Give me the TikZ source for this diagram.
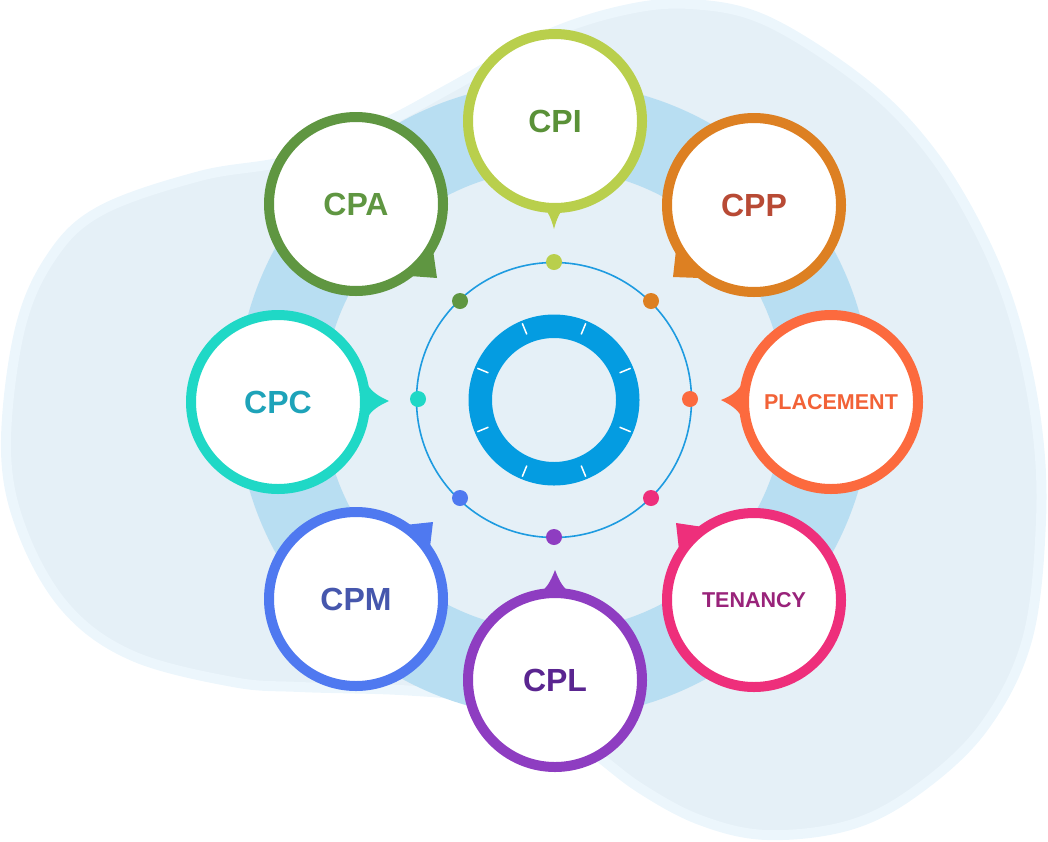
\documentclass[tikz,border=0pt]{standalone}
\usepackage{fontspec}
\setmainfont{Liberation Sans}
\definecolor{blobfill}{RGB}{229,240,247}
\definecolor{blobrim}{RGB}{236,246,252}
\definecolor{bandc}{RGB}{184,222,242}
\definecolor{thinc}{RGB}{30,155,224}
\definecolor{ringc}{RGB}{4,156,225}
\definecolor{cLime}{HTML}{B9CF4C}
\definecolor{tLime}{HTML}{5A9138}
\definecolor{cGreen}{HTML}{5F9641}
\definecolor{cOrange}{HTML}{DD8022}
\definecolor{tOrange}{HTML}{B84A35}
\definecolor{cCoral}{HTML}{FC6A3E}
\definecolor{tCoral}{HTML}{F26237}
\definecolor{cPink}{HTML}{EE2F7B}
\definecolor{tPink}{HTML}{99237A}
\definecolor{cPurple}{HTML}{8E3DC1}
\definecolor{tPurple}{HTML}{5A2590}
\definecolor{cBlue}{HTML}{4F79F0}
\definecolor{tBlue}{HTML}{4657AD}
\definecolor{cTeal}{HTML}{1FD8C6}
\definecolor{tTeal}{HTML}{1EA3B9}
\begin{document}
\begin{tikzpicture}[x=1pt,y=-1pt,
  bubble/.style={circle, draw=#1, line width=10pt, fill=white, minimum size=174pt, inner sep=0pt, font=\fontsize{32}{36}\selectfont\bfseries},
  smalltext/.style={font=\fontsize{21.5}{24}\selectfont\bfseries},
  dotnode/.style={circle, fill=#1, minimum size=16pt, inner sep=0pt},
  tick/.style={white, line width=1.5pt}]
\useasboundingbox (0,0) rectangle (1048,841);
% background blob
\fill[blobfill, draw=blobrim, line width=10pt] plot[smooth cycle, tension=0.6] coordinates {
 (6,450) (19,333) (50,259) (100,211) (200,176) (290,160) (380,125) (450,88) (540,38) (620,11) (690,4)
 (767,21) (865,84) (930,151) (980,233) (1014,318) (1036,420) (1041,520) (1027,640) (983,728)
 (917,790) (850,825) (767,835) (700,820) (640,788) (590,750) (540,716) (470,697) (400,690)
 (300,687) (233,682) (133,656) (67,609) (23,533)};
\coordinate (c) at (554,400);
% band
\draw[bandc, line width=87pt] (c) circle[radius=274];
% thin circle
\draw[thinc, line width=1.6pt] (c) circle[radius=137.5];
% centre ring
\draw[ringc, line width=23.5pt] (c) circle[radius=73.75];
\foreach \a in {22.5,67.5,...,337.5}
  \draw[tick] (c) ++(\a:71) -- ++(\a:12);
% dots
\node[dotnode=cLime] (d1) at (554,262) {};
\node[dotnode=cOrange] (d2) at (651,301) {};
\node[dotnode=cCoral] (d3) at (690,399) {};
\node[dotnode=cPink] (d4) at (651,498) {};
\node[dotnode=cPurple] (d5) at (554,537) {};
\node[dotnode=cBlue] (d6) at (460,498) {};
\node[dotnode=cTeal] (d7) at (418,399) {};
\node[dotnode=cGreen] (d8) at (460,301) {};
% pointers
\fill[cLime] (555,121) -- (538,203) .. controls (546,208) and (550,214) .. (554,229) .. controls (558,214) and (562,208) .. (571,203) -- cycle;
\fill[cTeal] (278,402) -- (367,384) .. controls (372,392) and (378,396) .. (389,401) .. controls (378,406) and (372,410) .. (367,418) -- cycle;
\fill[cCoral] (831,402) -- (742,384) .. controls (737,392) and (731,396) .. (721,400) .. controls (731,405) and (737,409) .. (742,417) -- cycle;
\fill[cPurple] (555,680) -- (538,594) .. controls (546,589) and (550,583) .. (555,570) .. controls (560,583) and (564,589) .. (572,594) -- cycle;
\fill[cGreen] (356,204) -- (433,250) -- (437,278) -- (410,276) -- cycle;
\fill[cOrange] (754,205) -- (676,250) -- (673,277) -- (700,278) -- cycle;
\fill[cPink] (754,600) -- (679,550) -- (676,523) -- (703,527) -- cycle;
\fill[cBlue] (356,599) -- (430,547) -- (433,522) -- (405,525) -- cycle;
% bubbles
\node[bubble=cLime, text=tLime] (cpi) at (555,121) {CPI};
\node[bubble=cOrange, text=tOrange] (cpp) at (754,205) {CPP};
\node[bubble=cCoral, text=tCoral, smalltext] (placement) at (831,402) {PLACEMENT};
\node[bubble=cPink, text=tPink, smalltext] (tenancy) at (754,600) {TENANCY};
\node[bubble=cPurple, text=tPurple] (cpl) at (555,680) {CPL};
\node[bubble=cBlue, text=tBlue] (cpm) at (356,599) {CPM};
\node[bubble=cTeal, text=tTeal] (cpc) at (278,402) {CPC};
\node[bubble=cGreen, text=cGreen] (cpa) at (356,204) {CPA};
\end{tikzpicture}
\end{document}
